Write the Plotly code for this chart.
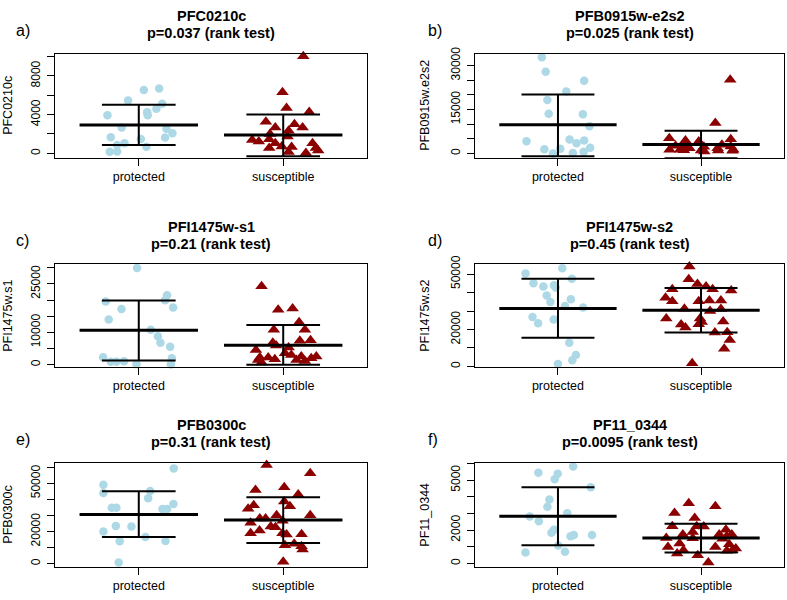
import plotly.graph_objects as go

GROUPS = ["protected", "susceptible"]

TITLES = ["PFC0210c", "PFB0915w-e2s2", "PFI1475w-s1", "PFI1475w-s2", "PFB0300c", "PF11_0344"]
PVALS = ["p=0.037 (rank test)", "p=0.025 (rank test)", "p=0.21 (rank test)",
         "p=0.45 (rank test)", "p=0.31 (rank test)", "p=0.0095 (rank test)"]
YLABELS = ["PFC0210c", "PFB0915w.e2s2", "PFI1475w.s1", "PFI1475w.s2", "PFB0300c", "PF11_0344"]
LETTERS = ["a)", "b)", "c)", "d)", "e)", "f)"]

# y tick values and labels (R skips overlapping labels)
A_TICKS = [0, 2000, 4000, 6000, 8000, 10000]
A_TICKTEXT = ["0", "", "4000", "", "8000", ""]
B_TICKS = [0, 5000, 10000, 15000, 20000, 25000, 30000]
B_TICKTEXT = ["0", "", "", "15000", "", "", "30000"]
C_TICKS = [0, 5000, 10000, 15000, 20000, 25000, 30000]
C_TICKTEXT = ["0", "", "10000", "", "", "25000", ""]
D_TICKS = [0, 10000, 20000, 30000, 40000, 50000]
D_TICKTEXT = ["0", "", "20000", "", "", "50000"]
E_TICKS = [0, 10000, 20000, 30000, 40000, 50000, 60000]
E_TICKTEXT = ["0", "", "20000", "", "", "50000", ""]
F_TICKS = [0, 1000, 2000, 3000, 4000, 5000, 6000]
F_TICKTEXT = ["0", "", "2000", "", "", "5000", ""]

# ---- panel a ----
A_PROT_VAL = [3930, 5460, 6540, 6710, 5120, 4610, 4240, 3930, 2680, 2540, 2070, 1630, 1660, 1490, 1050, 850, 680, 170, 200]
A_PROT_JIT = [-0.217, -0.074, 0.035, 0.141, 0.162, 0.122, 0.058, 0.062, -0.118, 0.192, 0.233, 0.182, -0.194, 0.014, -0.099, -0.15, 0.053, -0.201, -0.15]
A_SUSC_VAL = [10034, 6305, 4678, 4271, 3254, 3017, 2678, 2678, 2339, 2000, 1729, 1390, 1220, 1458, 1051, 1051, 712, 644, 542, 542, 305, 136, 34]
A_SUSC_JIT = [0.139, -0.005, 0.023, 0.18, -0.12, 0.078, 0.134, -0.055, 0.037, -0.092, 0.03, -0.215, -0.169, -0.097, -0.055, 0.203, -0.01, 0.058, -0.097, 0.226, 0.242, 0.037, 0.157]
A_MEAN = [2915, 1898]
A_HI = [5017, 4000]
A_LO = [848, -305]

# ---- panel b ----
B_PROT_VAL = [32790, 27860, 24840, 21150, 18240, 13540, 13320, 9290, 4140, 4700, 3470, 4360, 1900, 1450, 1570, 560, 110, 0]
B_PROT_JIT = [-0.113, -0.086, 0.183, 0.058, -0.074, -0.065, 0.174, 0.22, -0.22, 0.081, 0.13, 0.183, 0.225, -0.095, 0.016, 0.18, 0.104, -0.035]
B_SUSC_VAL = [25180, 10400, 5150, 4360, 4030, 4810, 2570, 2570, 1790, 2910, 1790, 1230, 1230, 1000, 670, 1230, 2350, 2000, 1100, 900, 2300, 1000]
B_SUSC_JIT = [0.204, 0.1, -0.222, -0.109, -0.016, 0.208, -0.178, -0.11, -0.081, 0.146, 0.116, -0.22, -0.146, 0.0, 0.023, 0.225, 0.208, -0.13, -0.12, 0.22, 0.02, 0.12]
B_MEAN = [9735, 3020]
B_HI = [20140, 7720]
B_LO = [-1000, -1680]

# ---- panel c ----
C_PROT_VAL = [29860, 19530, 21450, 19940, 17710, 17200, 13970, 10830, 8800, 6780, 5570, 2330, 910, 910, 1110, 200, 2020, 100]
C_PROT_JIT = [-0.012, -0.229, 0.196, 0.182, 0.238, -0.12, -0.208, 0.083, 0.132, 0.15, 0.217, -0.247, -0.194, -0.155, -0.102, -0.016, 0.229, 0.222]
C_SUSC_VAL = [24290, 17000, 17400, 13160, 10830, 10830, 6780, 5970, 7390, 7590, 5360, 4550, 3540, 3040, 2530, 2020, 2530, 2230, 2230, 1720, 1520, 1210, 710, 1520]
C_SUSC_JIT = [-0.15, -0.035, 0.065, 0.11, -0.065, 0.15, -0.072, -0.049, 0.115, 0.189, 0.037, -0.189, 0.012, 0.056, 0.229, 0.194, 0.125, -0.162, -0.104, -0.058, 0.092, 0.15, -0.15, -0.173]
C_MEAN = [10630, 6070]
C_HI = [19840, 12250]
C_LO = [1320, 0]

# ---- panel d ----
D_PROT_VAL = [53220, 50360, 47510, 45010, 43220, 43930, 42680, 38400, 36430, 34830, 32680, 31970, 26790, 25360, 23400, 12860, 6250, 3390, 1250]
D_PROT_JIT = [0.03, -0.227, 0.097, -0.171, -0.102, -0.028, -0.016, -0.079, 0.09, -0.053, 0.049, 0.176, -0.178, -0.03, -0.139, 0.079, 0.125, 0.1, 0.0]
D_SUSC_VAL = [54120, 47150, 44650, 43220, 41790, 41790, 41080, 37150, 35360, 35360, 35720, 35720, 31260, 31080, 30000, 25900, 25900, 24110, 24290, 22680, 21070, 22860, 18400, 18570, 14290, 9640, 1790]
D_SUSC_JIT = [-0.081, -0.086, -0.025, 0.035, -0.201, 0.081, 0.211, -0.248, -0.201, -0.016, 0.058, 0.139, -0.116, 0.139, 0.063, -0.243, -0.007, 0.005, 0.155, -0.139, -0.109, -0.016, 0.097, 0.183, 0.201, 0.162, -0.062]
D_MEAN = [31430, 30360]
D_HI = [47510, 42510]
D_LO = [15540, 18400]

# ---- panel e ----
E_PROT_VAL = [59360, 49160, 44060, 45290, 40800, 37130, 34880, 34880, 34070, 34070, 23460, 23050, 19990, 16520, 13870, 14080, 610]
E_PROT_JIT = [0.242, -0.245, -0.245, 0.079, 0.065, 0.24, -0.187, -0.155, 0.164, 0.196, -0.159, -0.051, -0.245, 0.046, -0.132, 0.185, -0.139]
E_SUSC_VAL = [61400, 56300, 47530, 45900, 43040, 38760, 36310, 34270, 35700, 30190, 30190, 28150, 28150, 26720, 25500, 23050, 22640, 20600, 18970, 18970, 18160, 18360, 11420, 12440, 10810, 8770, 1220]
E_SUSC_JIT = [-0.115, 0.187, 0.007, -0.192, 0.104, 0.007, -0.204, -0.243, 0.046, -0.046, 0.187, -0.162, -0.122, -0.005, -0.226, -0.086, -0.054, -0.164, -0.226, -0.005, 0.023, 0.127, 0.012, 0.076, 0.127, 0.134, 0.0]
E_MEAN = [30600, 27130]
E_HI = [45080, 41410]
E_LO = [16520, 12850]

# ---- panel f ----
F_PROT_VAL = [5820, 5445, 5386, 5050, 4574, 3841, 3406, 3010, 2812, 2534, 2020, 1841, 1703, 1624, 1703, 1069, 653, 693]
F_PROT_JIT = [0.106, -0.137, -0.002, -0.023, 0.229, -0.06, -0.074, 0.065, -0.197, -0.134, -0.028, -0.046, 0.238, 0.088, 0.111, 0.002, -0.227, 0.049]
F_SUSC_VAL = [3604, 3425, 3030, 2732, 2237, 2237, 2218, 2020, 1881, 1742, 1742, 1742, 1525, 1505, 1485, 1624, 1188, 990, 990, 1148, 792, 752, 792, 891, 594, 495, 59]
F_SUSC_JIT = [-0.086, 0.1, -0.185, -0.044, -0.201, -0.03, 0.019, 0.174, -0.058, -0.127, 0.127, 0.215, -0.243, -0.058, 0.15, 0.18, -0.15, -0.231, 0.1, 0.197, -0.123, 0.18, 0.219, 0.243, -0.167, -0.023, 0.051]
F_MEAN = [2831, 1525]
F_HI = [4574, 2376]
F_LO = [1089, 653]

Y_RANGES = [[-480, 10290], [-1570, 34020], [-810, 31070], [-540, 55370], [-1840, 62830], [-190, 6040]]

PANELS = [
    (A_PROT_VAL, A_PROT_JIT, A_SUSC_VAL, A_SUSC_JIT, A_MEAN, A_HI, A_LO, A_TICKS, A_TICKTEXT),
    (B_PROT_VAL, B_PROT_JIT, B_SUSC_VAL, B_SUSC_JIT, B_MEAN, B_HI, B_LO, B_TICKS, B_TICKTEXT),
    (C_PROT_VAL, C_PROT_JIT, C_SUSC_VAL, C_SUSC_JIT, C_MEAN, C_HI, C_LO, C_TICKS, C_TICKTEXT),
    (D_PROT_VAL, D_PROT_JIT, D_SUSC_VAL, D_SUSC_JIT, D_MEAN, D_HI, D_LO, D_TICKS, D_TICKTEXT),
    (E_PROT_VAL, E_PROT_JIT, E_SUSC_VAL, E_SUSC_JIT, E_MEAN, E_HI, E_LO, E_TICKS, E_TICKTEXT),
    (F_PROT_VAL, F_PROT_JIT, F_SUSC_VAL, F_SUSC_JIT, F_MEAN, F_HI, F_LO, F_TICKS, F_TICKTEXT),
]

W, H = 787, 600
# plot-box pixel geometry (left, right, top, bottom)
BOXES = [
    (55, 367, 45.5, 151.5), (475, 784, 45.5, 151.5),
    (55, 367, 259.5, 364.5), (475, 784, 259.5, 364.5),
    (55, 367, 461.5, 567), (475, 784, 461.5, 567),
]

FONT = "Liberation Sans, Arial, sans-serif"
BLUE = "#ADD8E6"
RED = "#8B0000"

fig = go.Figure()
layout = dict(width=W, height=H, margin=dict(l=0, r=0, t=0, b=0),
              paper_bgcolor="white", plot_bgcolor="white", showlegend=False,
              font=dict(family=FONT, color="black"))
annotations = []

for i, (pv, pj, sv, sj, mean, hi, lo, ticks, ticktext) in enumerate(PANELS):
    k = "" if i == 0 else str(i + 1)
    xa, ya = "x" + k, "y" + k
    l, r, t, b = BOXES[i]
    # points
    fig.add_trace(go.Scatter(x=[1 + j for j in pj], y=pv, mode="markers", xaxis=xa, yaxis=ya,
                             marker=dict(symbol="circle", size=8.5, color=BLUE), cliponaxis=False))
    fig.add_trace(go.Scatter(x=[2 + j for j in sj], y=sv, mode="markers", xaxis=xa, yaxis=ya,
                             marker=dict(symbol="triangle-up", size=11, color=RED), cliponaxis=False))
    # mean lines
    mx, my = [], []
    for g in range(2):
        c = g + 1
        mx += [c - 0.41, c + 0.41, None]
        my += [mean[g], mean[g], None]
    fig.add_trace(go.Scatter(x=mx, y=my, mode="lines", xaxis=xa, yaxis=ya,
                             line=dict(color="black", width=3)))
    # sd bars
    sx, sy = [], []
    for g in range(2):
        c = g + 1
        sx += [c - 0.255, c + 0.255, None, c - 0.255, c + 0.255, None, c, c, None]
        sy += [hi[g], hi[g], None, lo[g], lo[g], None, lo[g], hi[g], None]
    fig.add_trace(go.Scatter(x=sx, y=sy, mode="lines", xaxis=xa, yaxis=ya,
                             line=dict(color="black", width=2)))

    xdom = [l / W, r / W]
    ydom = [1 - b / H, 1 - t / H]
    layout["xaxis" + k] = dict(domain=xdom, anchor=ya, range=[0.42, 2.58],
                               tickvals=[1, 2], ticktext=GROUPS, ticks="outside", ticklen=7,
                               tickcolor="black", showline=True, mirror=True, linecolor="black",
                               linewidth=1, showgrid=False, zeroline=False,
                               tickfont=dict(size=12.5, color="black"), ticklabelstandoff=0)
    layout["yaxis" + k] = dict(domain=ydom, anchor=xa, range=Y_RANGES[i],
                               tickvals=ticks, ticktext=ticktext, tickangle=-90,
                               ticks="outside", ticklen=7, tickcolor="black",
                               showline=True, mirror=True, linecolor="black", linewidth=1,
                               showgrid=False, zeroline=False,
                               tickfont=dict(size=12, color="black"), ticklabelstandoff=2)
    cx = (l + r) / 2
    annotations.append(dict(x=cx / W, y=1 - (t - 38) / H, xref="paper", yref="paper",
                            text="<b>" + TITLES[i] + "</b>", showarrow=False,
                            font=dict(size=14.5, family=FONT, color="black"),
                            xanchor="center", yanchor="middle"))
    annotations.append(dict(x=cx / W, y=1 - (t - 21) / H, xref="paper", yref="paper",
                            text="<b>" + PVALS[i] + "</b>", showarrow=False,
                            font=dict(size=14.5, family=FONT, color="black"),
                            xanchor="center", yanchor="middle"))
    lx = 8 if i % 2 == 0 else 425
    annotations.append(dict(x=lx / W, y=1 - ((t + b) / 2) / H, xref="paper", yref="paper",
                            text=YLABELS[i], textangle=-90, showarrow=False,
                            font=dict(size=12.5, family=FONT, color="black"),
                            xanchor="center", yanchor="middle"))
    ltx = 14 if i % 2 == 0 else 426
    annotations.append(dict(x=ltx / W, y=1 - (t - 24) / H, xref="paper", yref="paper",
                            text=LETTERS[i], showarrow=False,
                            font=dict(size=16, family=FONT, color="black"),
                            xanchor="left", yanchor="middle"))

layout["annotations"] = annotations
fig.update_layout(**layout)
fig.write_html("out.html", config={"displayModeBar": False},
               post_script="document.body.style.margin='0';document.body.style.overflow='hidden';")
